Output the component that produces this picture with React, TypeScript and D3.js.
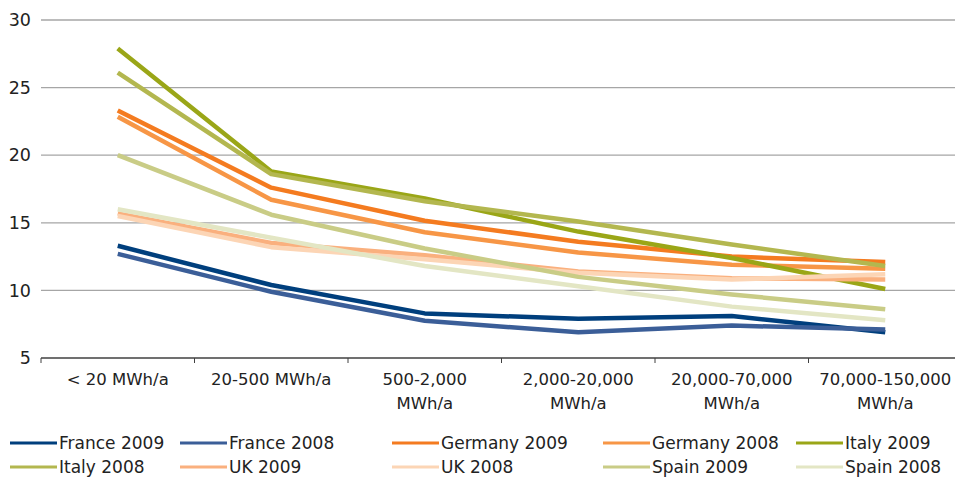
import React from "react";
import * as d3 from "d3";

const categories = [
  ["< 20 MWh/a"],
  ["20-500 MWh/a"],
  ["500-2,000", "MWh/a"],
  ["2,000-20,000", "MWh/a"],
  ["20,000-70,000", "MWh/a"],
  ["70,000-150,000", "MWh/a"],
];

const yTicks = [5, 10, 15, 20, 25, 30];

const seriesNames = [
  "France 2009", "France 2008", "Germany 2009", "Germany 2008", "Italy 2009",
  "Italy 2008", "UK 2009", "UK 2008", "Spain 2009", "Spain 2008",
];

const france2009 = [13.3, 10.4, 8.3, 7.9, 8.1, 6.9];
const france2008 = [12.7, 9.9, 7.75, 6.9, 7.4, 7.1];
const germany2009 = [23.3, 17.6, 15.15, 13.6, 12.5, 12.1];
const germany2008 = [22.85, 16.7, 14.3, 12.8, 11.9, 11.6];
const italy2009 = [27.9, 18.8, 16.8, 14.35, 12.4, 10.1];
const italy2008 = [26.1, 18.6, 16.6, 15.1, 13.4, 11.8];
const uk2009 = [15.7, 13.5, 12.6, 11.4, 10.9, 10.8];
const uk2008 = [15.5, 13.2, 12.3, 11.3, 10.8, 11.2];
const spain2009 = [20.0, 15.6, 13.1, 11.0, 9.7, 8.6];
const spain2008 = [16.0, 13.9, 11.8, 10.3, 8.8, 7.8];

const seriesValues = [
  france2009, france2008, germany2009, germany2008, italy2009,
  italy2008, uk2009, uk2008, spain2009, spain2008,
];

const seriesColors = [
  "#003F7D", "#3B5E98", "#F47B20", "#F79646", "#9AA617",
  "#B3B74F", "#FAB07E", "#FCD5B5", "#C9CC86", "#E3E6C4",
];

const W = 955;
const H = 477;
const FONT = "'DejaVu Sans', sans-serif";
const textStyle = { fontFamily: FONT };

export default function App() {
  const keys = categories.map((c) => c.join(" "));
  const x = d3.scaleBand<string>().domain(keys).range([41, 962]).padding(0);
  const y = d3.scaleLinear().domain([5, 30]).range([358, 20]);
  const cx = (i: number) => (x(keys[i]) as number) + x.bandwidth() / 2;

  const line = d3
    .line<number>()
    .x((_, i) => cx(i))
    .y((d) => y(d));

  const legendCols = [10, 180, 392, 603, 796];
  const legendRows = [443, 467];

  return (
    <svg
      width={W}
      height={H}
      style={{ position: "absolute", left: 0, top: 0, background: "#fff", fontFamily: FONT }}
    >
      {yTicks.map((t) => (
        <g key={t}>
          {t !== 5 && (
            <line x1={41} x2={W} y1={y(t)} y2={y(t)} stroke="#A6A6A6" strokeWidth={1.3} />
          )}
          <text x={31} y={y(t)} dy="0.35em" textAnchor="end" fontSize={17.5} fill="#222" style={textStyle}>
            {t}
          </text>
        </g>
      ))}
      <line x1={41} x2={W} y1={y(5)} y2={y(5)} stroke="#404040" strokeWidth={1.3} />
      {keys.map((k, i) => (
        <line
          key={"tk" + i}
          x1={x(k) as number}
          x2={x(k) as number}
          y1={y(5)}
          y2={y(5) + 5}
          stroke="#404040"
          strokeWidth={1}
        />
      ))}
      {categories.map((c, i) =>
        c.map((s, j) => (
          <text
            key={"xl" + i + "-" + j}
            x={cx(i)}
            y={385 + j * 24}
            textAnchor="middle"
            fontSize={16.5}
            fill="#222"
            style={textStyle}
          >
            {s}
          </text>
        ))
      )}
      {seriesValues.map((vals, si) => (
        <path
          key={"s" + si}
          d={line(vals) || ""}
          fill="none"
          stroke={seriesColors[si]}
          strokeWidth={4.5}
          strokeLinejoin="round"
        />
      ))}
      {seriesNames.map((n, i) => {
        const lx = legendCols[i % 5];
        const ly = legendRows[Math.floor(i / 5)];
        return (
          <g key={"lg" + i}>
            <line x1={lx} x2={lx + 47} y1={ly} y2={ly} stroke={seriesColors[i]} strokeWidth={3} />
            <text x={lx + 49} y={ly} dy="0.35em" fontSize={17} fill="#222" style={textStyle}>
              {n}
            </text>
          </g>
        );
      })}
    </svg>
  );
}
